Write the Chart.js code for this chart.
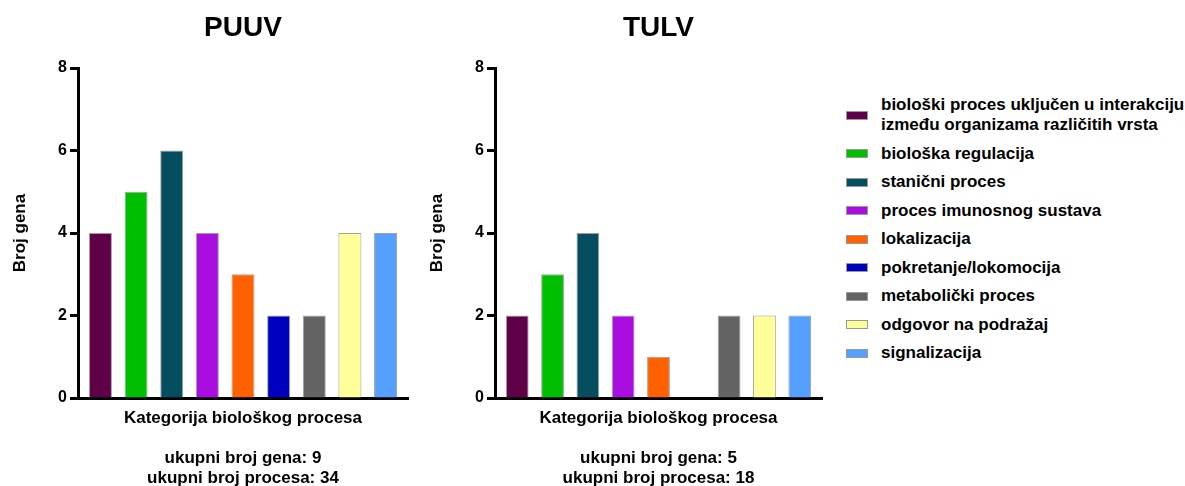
<!DOCTYPE html>
<html>
<head>
<meta charset="utf-8">
<script src="https://cdn.jsdelivr.net/npm/chart.js@4.4.1/dist/chart.umd.min.js"></script>
<style>
  body { margin: 0; background: #fff; font-family: "Liberation Sans", Arial, sans-serif; }
  #wrap { position: relative; width: 1185px; height: 486px; overflow: hidden; }
  .box { position: absolute; top: 0; }
  #legend { position: absolute; left: 846px; top: 95px; display: flex; flex-direction: column; gap: 8.5px; }
  .item { display: flex; align-items: center; font-weight: bold; font-size: 17px; line-height: 20px; color: #000; }
  .sw { width: 20px; height: 7px; border: 1px solid #999; margin-right: 13px; flex: none; }
  .txt { width: 306px; }
</style>
</head>
<body>
<div id="wrap">
  <div class="box" style="left:0px"><canvas id="puuv" width="420" height="486"></canvas></div>
  <div class="box" style="left:417px"><canvas id="tulv" width="410" height="486"></canvas></div>
  <div id="legend"></div>
</div>
<script>
const categories = [
  "biološki proces uključen u interakciju između organizama različitih vrsta",
  "biološka regulacija",
  "stanični proces",
  "proces imunosnog sustava",
  "lokalizacija",
  "pokretanje/lokomocija",
  "metabolički proces",
  "odgovor na podražaj",
  "signalizacija"
];
const barColors = ["#600048", "#00bf00", "#044e60", "#aa0ddf", "#ff6000", "#0000bf", "#636363", "#ffff99", "#55a0ff"];
const puuvValues = [4, 5, 6, 4, 3, 2, 2, 4, 4];
const tulvValues = [2, 3, 4, 2, 1, 0, 2, 2, 2];
const yTicks = [0, 2, 4, 6, 8];

const font = "'Liberation Sans', Arial, sans-serif";

// title centred over the plot area, not the whole canvas
const areaTitle = {
  id: "areaTitle",
  afterDraw(chart, args, opts) {
    const { ctx, chartArea } = chart;
    ctx.save();
    ctx.font = "bold 28px " + font;
    ctx.fillStyle = "#000";
    ctx.textAlign = "center";
    ctx.textBaseline = "middle";
    ctx.fillText(opts.text, (chartArea.left + chartArea.right) / 2, 28);
    ctx.restore();
  }
};

function makeChart(id, name, values, rightPad, totalGenes, totalProc) {
  const ctx = document.getElementById(id).getContext("2d");
  return new Chart(ctx, {
    type: "bar",
    data: {
      labels: categories,
      datasets: [{
        // category index on x, so the bars can sit a bit in from the axis ends
        data: values.map((v, i) => ({ x: i, y: v })),
        backgroundColor: barColors,
        borderColor: "#a0a0a0",
        borderWidth: 1,
        barPercentage: 0.645,
        categoryPercentage: 1
      }]
    },
    options: {
      responsive: false,
      animation: false,
      layout: { padding: { top: 68, right: rightPad, left: 0, bottom: 0 } },
      scales: {
        x: {
          type: "linear",
          offset: false,
          min: -0.63,
          max: categories.length - 1 + 0.63,
          ticks: { display: false },
          grid: { display: false },
          border: { display: true, width: 3, color: "#000" },
          title: {
            display: true,
            text: ["Kategorija biološkog procesa", "", "ukupni broj gena: " + totalGenes, "ukupni broj procesa: " + totalProc],
            color: "#000",
            font: { family: font, size: 17, weight: "bold", lineHeight: "20px" },
            padding: { top: 0, bottom: -2 }
          },
          afterFit(scale) { scale.height = 88; }
        },
        y: {
          min: 0,
          max: 8,
          afterBuildTicks(scale) { scale.ticks = yTicks.map(v => ({ value: v })); },
          ticks: { color: "#000", padding: 3, font: { family: font, size: 16, weight: "bold" } },
          grid: { drawOnChartArea: false, drawTicks: true, tickLength: 8, tickWidth: 3, tickColor: "#000" },
          border: { display: true, width: 3, color: "#000" },
          title: {
            display: true,
            text: "Broj gena",
            color: "#000",
            font: { family: font, size: 17, weight: "bold" },
            padding: { top: 10, bottom: 0 }
          },
          afterFit(scale) { scale.width = 78; }
        }
      },
      plugins: {
        legend: { display: false },
        tooltip: { enabled: false },
        areaTitle: { text: name }
      }
    },
    plugins: [areaTitle]
  });
}

makeChart("puuv", "PUUV", puuvValues, 12, 9, 34);
makeChart("tulv", "TULV", tulvValues, 5, 5, 18);

const legend = document.getElementById("legend");
categories.forEach((c, i) => {
  const item = document.createElement("div");
  item.className = "item";
  const sw = document.createElement("div");
  sw.className = "sw";
  sw.style.background = barColors[i];
  const t = document.createElement("div");
  t.className = "txt";
  t.textContent = c;
  item.appendChild(sw);
  item.appendChild(t);
  legend.appendChild(item);
});
</script>
</body>
</html>
